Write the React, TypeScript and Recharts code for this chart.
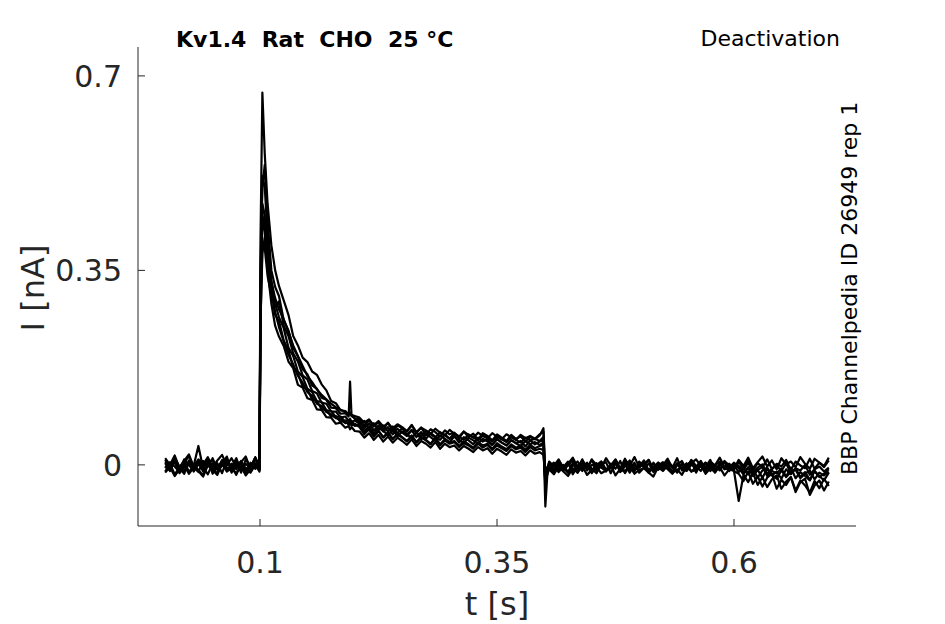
import React from 'react';
import { LineChart, Line, XAxis, YAxis } from 'recharts';

// sample times in ms (denser around the step edges)
const TIME_MS = [
  0, 5, 10, 15, 20, 25, 30, 35, 40, 45, 50, 55, 60, 65, 70, 75, 80, 85, 90, 95, 99.5,
  100.5, 102.5, 105, 108, 112, 116,
  120, 125, 130, 135, 140, 145, 150, 155, 160, 165, 170, 175, 180, 185, 190, 193.5, 195, 196.5, 200,
  205, 210, 215, 220, 225, 230, 235, 240, 245, 250, 255, 260, 265, 270, 275, 280, 285, 290, 295, 300,
  305, 310, 315, 320, 325, 330, 335, 340, 345, 350, 355, 360, 365, 370, 375, 380, 385, 390, 395,
  399, 401, 403,
  405, 410, 415, 420, 425, 430, 435, 440, 445, 450, 455, 460, 465, 470, 475, 480, 485, 490, 495, 500,
  505, 510, 515, 520, 525, 530, 535, 540, 545, 550, 555, 560, 565, 570, 575, 580, 585, 590, 595, 600,
  605, 610, 615, 620, 625, 630, 635, 640, 645, 650, 655, 660, 665, 670, 675, 680, 685, 690, 695, 700,
];

// current traces in pA
const sweep1 = [
  9, -6, 14, -11, 3, 16, -4, -13, 7, -2, 12, -9, 1, 15, -10, 5, -14, 10, -3, 13, -7,
  400, 670, 560, 470, 395, 350,
  322, 296, 270, 232, 215, 193, 185, 168, 162, 145, 134, 115, 111, 98, 97, 90, 93, 88, 84,
  82, 70, 81, 69, 77, 64, 76, 61, 71, 66, 60, 72, 58, 67, 54, 64, 59, 51, 62, 55,
  58, 48, 60, 50, 56, 45, 57, 52, 44, 55, 49, 43, 54, 47, 51, 42, 50, 46, 53,
  66, -18, -6,
  4, -12, 7, -9, -1, 9, -14, 2, -6, 10, -11, 0, 5, -15, 3, -7, 11, -4, -12, 6,
  -3, 9, -13, 1, -8, 4, -5, 12, -10, -1, 7, -14, 3, -4, 9, -11, 0, 6, -7, 4,
  -6, -17, -4, -20, -9, -23, -7, -18, -25, -10, -21, -5, -24, -13, -20, -28, -11, -22, -16, -8,
];
const sweep2 = [
  -12, 2, -17, -5, 8, -13, -1, -9, -19, 4, -7, -15, 6, -10, -3, -18, 3, -6, -14, 0, -9,
  350, 500, 540, 440, 350, 320,
  304, 261, 242, 211, 195, 172, 163, 143, 137, 121, 117, 103, 102, 92, 93, 87, 150, 90, 83,
  78, 66, 75, 62, 71, 60, 68, 55, 65, 58, 52, 62, 50, 59, 47, 57, 51, 45, 55, 47,
  52, 40, 50, 44, 37, 49, 42, 46, 36, 47, 40, 35, 45, 39, 43, 33, 44, 37, 42,
  44, -75, -20,
  -5, -14, 1, -10, 5, -17, -2, -11, 3, -7, -15, 2, -8, -3, 6, -13, -1, -9, 4, -14,
  -5, 2, -11, -2, 5, -8, -16, 0, -6, 3, -12, -4, 6, -10, -1, -14, 2, -8, -3, -11,
  -65, -18, -31, -14, -36, -22, -40, -26, -19, -43, -30, -22, -46, -28, -37, -50, -29, -42, -25, -38,
];
const sweep3 = [
  5, -9, 13, -3, -12, 8, -2, 34, -6, 11, -10, 3, -15, 9, -4, 12, -11, 2, -7, 14, -3,
  330, 520, 500, 410, 330, 290,
  266, 246, 211, 196, 168, 158, 137, 131, 115, 113, 98, 97, 86, 87, 77, 81, 76, 79, 72,
  70, 59, 65, 53, 61, 50, 58, 47, 55, 49, 43, 52, 40, 49, 44, 37, 47, 35, 44, 38,
  41, 32, 39, 35, 29, 38, 31, 36, 27, 35, 30, 25, 34, 28, 31, 23, 32, 26, 29,
  27, -30, -12,
  2, -8, 8, -4, -13, 3, -6, 10, -10, 0, -3, 6, -12, -1, 9, -7, 4, -14, 0, -5,
  8, -10, -3, 3, -9, 6, -4, -13, 2, -7, 9, -2, -11, 4, -6, 0, -10, 7, -1, -8,
  5, -6, 8, -10, 3, -4, 10, -8, 2, -3, 9, -9, 6, -1, -6, 11, -7, 4, -4, 8,
];
const sweep4 = [
  -14, -4, -20, -8, 0, -16, -5, -11, -21, -1, -9, -18, 2, -12, -6, -15, -3, -19, -8, 0, -12,
  300, 470, 450, 380, 310, 270,
  259, 224, 206, 176, 164, 141, 135, 118, 115, 100, 99, 87, 88, 77, 80, 72, 76, 71, 74,
  68, 55, 64, 51, 61, 49, 58, 46, 56, 50, 42, 53, 41, 50, 45, 38, 49, 37, 46, 40,
  43, 34, 42, 37, 31, 41, 35, 38, 29, 39, 33, 28, 37, 31, 35, 27, 36, 30, 34,
  36, -40, -15,
  -8, -17, -3, -12, -20, -6, -14, -2, -18, -9, -4, -15, -10, 0, -19, -7, -12, -3, -16, -9,
  -6, -14, -21, -4, -11, -1, -15, -8, -18, -3, -12, -9, 0, -16, -6, -13, -4, -19, -8, -11,
  -16, -29, -12, -34, -21, -39, -23, -16, -43, -27, -36, -22, -49, -31, -25, -54, -37, -28, -46, -30,
];
const sweep5 = [
  12, 0, 17, -6, 7, 19, -3, 10, 1, 14, -5, 8, 18, -1, 12, -4, 5, 15, -8, 9, 4,
  280, 440, 420, 350, 290, 250,
  231, 214, 186, 174, 144, 139, 120, 117, 100, 99, 86, 85, 74, 76, 67, 70, 64, 68, 61,
  60, 49, 57, 45, 54, 42, 51, 40, 49, 43, 36, 46, 34, 43, 38, 31, 41, 29, 38, 32,
  35, 26, 34, 29, 23, 32, 26, 30, 20, 29, 24, 18, 28, 22, 25, 17, 26, 20, 23,
  18, -25, -10,
  6, -2, 10, -7, 2, 13, -4, 5, -8, 9, 0, -5, 12, -1, 3, -10, 7, -2, 14, -4,
  2, 9, -7, 4, -1, 11, -5, 0, 7, -8, 3, 10, -2, -6, 6, -1, 13, -4, 2, -7,
  9, -2, 13, -6, 5, 15, -3, 8, -8, 12, 1, 6, -4, 14, 2, -7, 11, 4, -2, 13,
];
const sweep6 = [
  -2, -10, 6, -15, -4, 3, -12, 1, -7, 9, -16, -3, 5, -11, 2, -8, 7, -13, -4, 3, -9,
  250, 400, 390, 340, 305, 285,
  294, 251, 232, 201, 186, 161, 154, 133, 129, 112, 110, 96, 96, 85, 87, 79, 83, 77, 80,
  74, 79, 66, 75, 63, 71, 60, 69, 57, 66, 54, 63, 58, 52, 61, 55, 49, 59, 53, 47,
  57, 51, 45, 55, 49, 44, 53, 48, 42, 52, 46, 41, 50, 45, 40, 49, 44, 47, 43,
  50, -22, -4,
  -4, 4, -10, 0, -14, -2, 6, -8, -1, -12, 3, -5, -11, 2, -7, 7, -15, -2, -8, 1,
  -4, -12, 4, -9, -1, -5, -14, 3, -7, -11, 0, -4, 7, -8, -2, -12, 2, -5, -10, -1,
  -13, -4, -17, -8, -23, -10, -5, -19, -12, -25, -8, -17, -6, -22, -13, -27, -11, -20, -28, -14,
];
const sweep7 = [
  3, -11, 8, -5, -16, 6, -8, 4, -12, 1, 9, -7, -2, 11, -14, 0, 6, -9, 2, -5, 7,
  290, 450, 430, 370, 315, 275,
  248, 222, 198, 181, 160, 148, 131, 124, 110, 106, 95, 91, 84, 82, 75, 77, 73, 75, 70,
  73, 61, 69, 57, 66, 62, 53, 64, 51, 60, 55, 48, 58, 46, 55, 50, 43, 53, 47, 41,
  51, 45, 39, 49, 44, 38, 47, 42, 36, 46, 40, 35, 44, 39, 34, 43, 37, 41, 36,
  40, -35, -8,
  -9, 1, -13, -4, 6, -11, -1, -7, 4, -15, -3, 3, -10, -6, 5, -12, -2, 8, -9, -4,
  1, -14, -5, 4, -8, -1, -12, 2, -6, -3, 7, -10, -2, -13, 3, -7, -1, 5, -11, -4,
  -3, -14, -6, -18, -9, -4, -20, -11, -15, -7, -22, -13, -9, -24, -16, -10, -26, -14, -19, -12,
];
const sweep8 = [
  -6, 5, -3, -13, 10, -1, -9, 7, -4, -17, 3, -8, 9, -5, -11, 6, -2, -15, 4, -7, 1,
  260, 380, 410, 370, 330, 300,
  280, 262, 240, 215, 196, 178, 160, 149, 136, 126, 118, 110, 104, 99, 95, 92, 94, 90, 88,
  85, 76, 82, 71, 79, 69, 75, 66, 73, 68, 61, 71, 59, 67, 62, 56, 65, 58, 53, 63,
  56, 51, 60, 54, 49, 58, 52, 48, 57, 51, 46, 55, 50, 45, 54, 48, 52, 47, 55,
  60, -28, -10,
  -1, -10, 5, -6, -14, 2, -8, 8, -3, -11, 0, 6, -9, -2, 10, -7, -13, 3, -5, -1,
  7, -12, -4, 2, -9, 5, -2, -14, 1, -6, 8, -8, -3, 4, -11, -1, 6, -7, -4, 3,
  -2, -9, 4, -13, -5, 1, -16, -7, -1, -11, 3, -15, -6, -10, 0, -18, -8, -3, -12, -5,
];

const SWEEPS = [sweep1, sweep2, sweep3, sweep4, sweep5, sweep6, sweep7, sweep8];
const X_TICKS = [0.1, 0.35, 0.6];
const Y_TICKS = [0, 0.35, 0.7];
const X_DOMAIN = [-0.0287, 0.7287];
const Y_DOMAIN = [-0.11, 0.752];

const data = TIME_MS.map((ms, i) => {
  const row: Record<string, number> = { t: ms / 1000 };
  SWEEPS.forEach((s, k) => {
    row['s' + k] = s[i] / 1000;
  });
  return row;
});

const W = 945;
const H = 624;
const LEFT = 138;
const RIGHT = 856;
const TOP = 47;
const BOTTOM = 526;
const FONT = '"DejaVu Sans", sans-serif';
const INK = '#262626';

const XTick = (props: any) => {
  const { x, payload } = props;
  return (
    <g>
      <line x1={x} x2={x} y1={BOTTOM} y2={BOTTOM - 7} stroke={INK} strokeWidth={1} />
      <text x={x} y={573} textAnchor="middle" fontSize={30} fontFamily={FONT} fill={INK}>
        {payload.value}
      </text>
    </g>
  );
};

const YTick = (props: any) => {
  const { y, payload } = props;
  return (
    <g>
      <line x1={LEFT} x2={LEFT + 7} y1={y} y2={y} stroke={INK} strokeWidth={1} />
      <text x={122} y={y + 11} textAnchor="end" fontSize={30} fontFamily={FONT} fill={INK}>
        {payload.value}
      </text>
    </g>
  );
};

export default function App() {
  return (
    <div style={{ position: 'absolute', left: 0, top: 0, width: W, height: H, background: '#fff' }}>
      <LineChart
        width={W}
        height={H}
        data={data}
        margin={{ top: TOP, right: W - RIGHT, bottom: H - BOTTOM - 60, left: LEFT - 60 }}
      >
        <XAxis
          dataKey="t"
          type="number"
          domain={X_DOMAIN}
          ticks={X_TICKS}
          height={60}
          allowDataOverflow
          axisLine={{ stroke: INK }}
          tickLine={false}
          tick={<XTick />}
        />
        <YAxis
          type="number"
          domain={Y_DOMAIN}
          ticks={Y_TICKS}
          width={60}
          allowDataOverflow
          axisLine={{ stroke: INK }}
          tickLine={false}
          tick={<YTick />}
        />
        {SWEEPS.map((_, k) => (
          <Line
            key={k}
            dataKey={'s' + k}
            type="linear"
            stroke="#000"
            strokeWidth={2.2}
            strokeLinejoin="round"
            dot={false}
            activeDot={false}
            isAnimationActive={false}
          />
        ))}
      </LineChart>
      <svg
        width={W}
        height={H}
        style={{ position: 'absolute', left: 0, top: 0, pointerEvents: 'none' }}
      >
        <text
          x={176}
          y={47}
          fontSize={22}
          fontWeight="bold"
          fontFamily={FONT}
          fill="#000"
          style={{ whiteSpace: 'pre' }}
        >
          {'Kv1.4  Rat  CHO  25 °C'}
        </text>
        <text x={840} y={46} textAnchor="end" fontSize={22} fontFamily={FONT} fill="#000">
          Deactivation
        </text>
        <text
          x={857}
          y={475}
          fontSize={22}
          fontFamily={FONT}
          fill="#000"
          transform="rotate(-90 857 475)"
        >
          BBP Channelpedia ID 26949 rep 1
        </text>
        <text x={497} y={615} textAnchor="middle" fontSize={32} fontFamily={FONT} fill={INK}>
          t [s]
        </text>
        <text
          x={44}
          y={288}
          textAnchor="middle"
          fontSize={32}
          fontFamily={FONT}
          fill={INK}
          transform="rotate(-90 44 288)"
        >
          I [nA]
        </text>
      </svg>
    </div>
  );
}
